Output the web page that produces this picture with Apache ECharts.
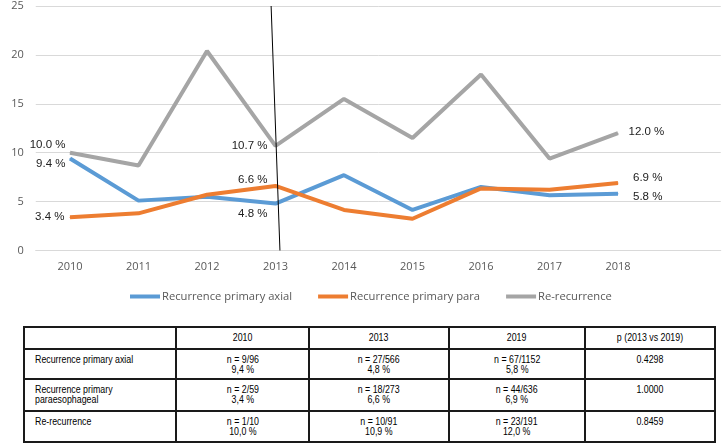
<!DOCTYPE html>
<html>
<head>
<meta charset="utf-8">
<script src="https://cdn.jsdelivr.net/npm/echarts@6/dist/echarts.min.js"></script>
<style>
  html, body { margin: 0; padding: 0; background: #fff; }
  #chart { position: absolute; left: 0; top: 0; width: 722px; height: 315px; }
  #tbl {
    position: absolute; left: 23px; top: 326px;
    border-collapse: collapse; table-layout: fixed;
    font-family: "Liberation Sans", Arial, sans-serif;
    font-size: 10.4px; color: #000; line-height: 10.4px;
  }
  #tbl td { border: 2px solid #1a1a1a; padding: 0; vertical-align: top; text-align: center; }
  #tbl tr.head td { height: 20px; vertical-align: middle; }
  #tbl tr.body td { padding-top: 5px; }
  #tbl td.rowlabel { text-align: left; padding-left: 10px; }
  #tbl span { display: inline-block; white-space: pre; transform: scaleX(0.85); transform-origin: 50% 0; }
  #tbl td.rowlabel span { transform-origin: 0 0; }
</style>
</head>
<body>
<div id="chart"></div>
<table id="tbl"></table>
<script>
// ---- chart data ----
const years = ['2010','2011','2012','2013','2014','2015','2016','2017','2018',''];
const axial = [9.4, 5.1, 5.5, 4.8, 7.7, 4.15, 6.5, 5.65, 5.8];
const para = [3.4, 3.8, 5.7, 6.6, 4.15, 3.25, 6.35, 6.2, 6.9];
const reRec = [10.0, 8.7, 20.4, 10.7, 15.5, 11.5, 18.0, 9.4, 12.0];
const yTicks = [0, 5, 10, 15, 20, 25];
const seriesNames = ['Recurrence primary axial', 'Recurrence primary para', 'Re-recurrence'];
const dividerYear = [2012.936, 2013.065];

// ---- table data ----
const tableHeader = ['', '2010', '2013', '2019', 'p (2013 vs 2019)'];
const tableRowLabels = ['Recurrence primary axial', 'Recurrence primary\nparaesophageal', 'Re-recurrence'];
const tableN = [['9/96', '27/566', '67/1152'], ['2/59', '18/273', '44/636'], ['1/10', '10/91', '23/191']];
const tablePct = [['9,4 %', '4,8 %', '5,8 %'], ['3,4 %', '6,6 %', '6,9 %'], ['10,0 %', '10,9 %', '12,0 %']];
const tableP = ['0.4298', '1.0000', '0.8459'];

// ---- styles ----
const colors = ['#5B9BD5', '#ED7D31', '#A5A5A5'];
const labelCfg = [
  { 0: { position: 'left', distance: 4, offset: [0, 5] }, 3: { position: 'left', distance: 7.5, offset: [0, 10] }, 8: { position: 'right', distance: 14.5, offset: [0, 3] } },
  { 0: { position: 'left', distance: 5, offset: [0, 0] }, 3: { position: 'left', distance: 7.5, offset: [0, -6] }, 8: { position: 'right', distance: 14.5, offset: [0, -5] } },
  { 0: { position: 'left', distance: 4, offset: [0, -8] }, 3: { position: 'left', distance: 7.5, offset: [0, 0] }, 8: { position: 'right', distance: 10, offset: [0, -1.5] } }
];

function buildData(values, cfg) {
  return values.map((v, i) => {
    const item = { value: v };
    if (cfg[i]) {
      item.label = Object.assign({
        show: true,
        formatter: (p) => Number(p.value).toFixed(1) + ' %',
        color: '#222',
        fontFamily: 'Liberation Sans, Arial, sans-serif',
        fontSize: 11.5
      }, cfg[i]);
    }
    return item;
  });
}

const allValues = [axial, para, reRec];
const chart = echarts.init(document.getElementById('chart'), null, { renderer: 'canvas' });
const series = allValues.map((vals, k) => ({
  name: seriesNames[k],
  type: 'line',
  data: buildData(vals, labelCfg[k]),
  symbol: 'circle',
  symbolSize: 1,
  showSymbol: true,
  showAllSymbol: true,
  lineStyle: { width: 4, color: colors[k] },
  itemStyle: { color: colors[k] },
  emphasis: { disabled: true },
  label: { show: false }
}));
series.push({
  name: 'divider',
  type: 'line',
  xAxisIndex: 1,
  data: [],
  silent: true,
  markLine: {
    silent: true,
    symbol: ['none', 'none'],
    label: { show: false },
    lineStyle: { color: '#000', width: 1, type: 'solid' },
    emphasis: { disabled: true },
    data: [[{ coord: [dividerYear[0], yTicks[yTicks.length - 1]] }, { coord: [dividerYear[1], yTicks[0]] }]]
  }
});

chart.setOption({
  animation: false,
  grid: { left: 35.75, top: 6, width: 685, height: 244.5, containLabel: false },
  legend: {
    data: seriesNames,
    left: 125,
    top: 286,
    icon: 'rect',
    itemWidth: 30,
    itemHeight: 4,
    itemGap: 26,
    textStyle: { fontFamily: 'Open Sans', fontSize: 11.2, color: '#595959', padding: [0, 0, 0, -3] }
  },
  xAxis: [{
    type: 'category',
    data: years,
    boundaryGap: true,
    axisLine: { show: true, lineStyle: { color: '#d9d9d9', width: 1 } },
    axisTick: { show: false },
    axisLabel: { color: '#595959', fontFamily: 'Open Sans', fontSize: 11, margin: 11 },
    splitLine: { show: false }
  }, {
    type: 'value',
    min: 2009.5,
    max: 2019.5,
    show: false
  }],
  yAxis: {
    type: 'value',
    min: yTicks[0],
    max: yTicks[yTicks.length - 1],
    interval: 5,
    axisLine: { show: false },
    axisTick: { show: false },
    axisLabel: { color: '#595959', fontFamily: 'Open Sans', fontSize: 11, margin: 12 },
    splitLine: { lineStyle: { color: '#d9d9d9', width: 1 } }
  },
  series: series
});

// ---- table ----
const colWidths = [152, 133, 140, 136, 130];
const tbl = document.getElementById('tbl');
const cg = document.createElement('colgroup');
colWidths.forEach(w => { const c = document.createElement('col'); c.style.width = w + 'px'; cg.appendChild(c); });
tbl.appendChild(cg);
function cell(text, cls) {
  const td = document.createElement('td');
  if (cls) td.className = cls;
  const sp = document.createElement('span');
  sp.textContent = text;
  td.appendChild(sp);
  return td;
}
const hr = document.createElement('tr'); hr.className = 'head';
tableHeader.forEach(h => hr.appendChild(cell(h)));
tbl.appendChild(hr);
const rowHeights = [30, 32, 31];
tableRowLabels.forEach((lab, r) => {
  const tr = document.createElement('tr'); tr.className = 'body';
  tr.style.height = rowHeights[r] + 'px';
  tr.appendChild(cell(lab, 'rowlabel'));
  for (let c = 0; c < 3; c++) {
    tr.appendChild(cell('n = ' + tableN[r][c] + '\n' + tablePct[r][c]));
  }
  tr.appendChild(cell(tableP[r]));
  tbl.appendChild(tr);
});
</script>
</body>
</html>
